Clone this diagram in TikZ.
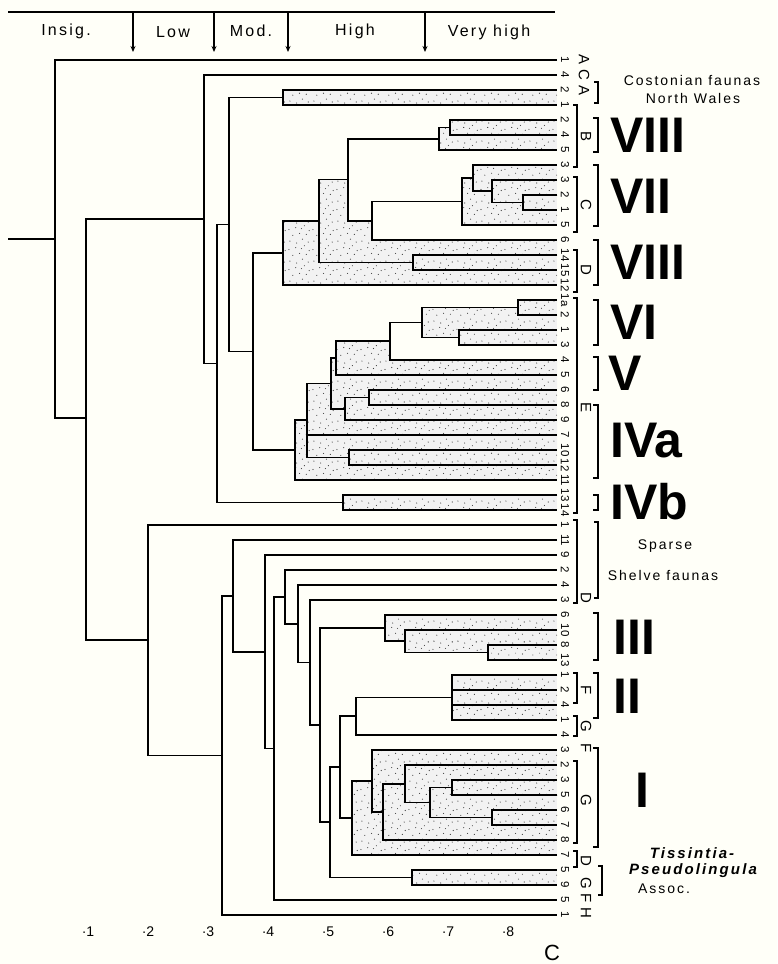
\documentclass[tikz,border=0pt]{standalone}
\usepackage{fontspec}
\setmainfont{Liberation Sans}
\newfontfamily\hdr[LetterSpace=14]{Liberation Sans}
\usetikzlibrary{arrows.meta,patterns.meta}
\definecolor{bg}{RGB}{255,255,248}
\pgfdeclarepattern{
  name=stip, type=uncolored,
  bottom left={\pgfpoint{0pt}{0pt}}, top right={\pgfpoint{24pt}{20pt}},
  tile size={\pgfpoint{24pt}{20pt}},
  code={
    \pgfpathcircle{\pgfpoint{2pt}{3pt}}{0.6pt}
    \pgfpathcircle{\pgfpoint{9pt}{1pt}}{0.6pt}
    \pgfpathcircle{\pgfpoint{15pt}{5pt}}{0.6pt}
    \pgfpathcircle{\pgfpoint{21pt}{2pt}}{0.6pt}
    \pgfpathcircle{\pgfpoint{5pt}{9pt}}{0.6pt}
    \pgfpathcircle{\pgfpoint{12pt}{11pt}}{0.6pt}
    \pgfpathcircle{\pgfpoint{19pt}{10pt}}{0.6pt}
    \pgfpathcircle{\pgfpoint{1pt}{15pt}}{0.6pt}
    \pgfpathcircle{\pgfpoint{8pt}{17pt}}{0.6pt}
    \pgfpathcircle{\pgfpoint{14pt}{16pt}}{0.6pt}
    \pgfpathcircle{\pgfpoint{22pt}{14pt}}{0.6pt}
    \pgfpathcircle{\pgfpoint{17pt}{19pt}}{0.6pt}
    \pgfusepath{fill}
  }
}
\tikzset{
  dl/.style={line width=1.6pt, line join=miter},
  shd/.style={fill=black!5, postaction={pattern=stip, pattern color=black!75}},
  num/.style={rotate=-90, inner sep=0pt, font=\fontsize{11.5}{12}\selectfont},
  grp/.style={rotate=-90, inner sep=0pt, font=\fontsize{15}{15}\selectfont},
  rom/.style={inner sep=0pt, anchor=west, font=\fontsize{50}{50}\selectfont\bfseries},
  sbr/.style={line width=1.2pt},
  tbr/.style={line width=2.8pt},
  htxt/.style={inner sep=0pt, font=\hdr\fontsize{16}{16}\selectfont},
  rtxt/.style={inner sep=0pt, font=\hdr\fontsize{14}{14}\selectfont},
  arr/.style={line width=1.1pt, -{Stealth[length=6pt,width=5pt]}},
}
\begin{document}
\begin{tikzpicture}[x=1pt,y=-1pt]
\useasboundingbox (0,0) rectangle (777,964);
\fill[bg] (0,0) rectangle (777,964);
% ---------- header
\draw[line width=1.3pt] (8,12) -- (555,12);
\foreach \ax in {133,214,288,425} \draw[arr] (\ax,12) -- (\ax,52);
\node[htxt] (h1) at (66,31) {Insig.};
\node[htxt] (h2) at (173,32) {Low};
\node[htxt] (h3) at (251,31) {Mod.};
\node[htxt] (h4) at (355,31) {High};
\node[htxt] (h5) at (489,32) {Very high};
% ---------- shading, upper
\fill[shd] (283,90) rectangle (557,105);
\fill[shd] (450,120) rectangle (557,135);
\fill[shd] (439,127.5) rectangle (557,150);
\fill[shd] (523,195) rectangle (557,210);
\fill[shd] (492,180) rectangle (557,202.5);
\fill[shd] (473,165) rectangle (557,191.25);
\fill[shd] (462,178.1) rectangle (557,225);
\fill[shd] (413,255) rectangle (557,270);
\fill[shd] (319,179.4)--(348,179.4)--(348,220.75)--(372,220.75)--(372,240)--(557,240)--(557,255)--(413,255)--(413,262.5)--(319,262.5)--cycle;
\fill[shd] (283,221)--(319,221)--(319,262.5)--(413,262.5)--(413,270)--(557,270)--(557,285)--(283,285)--cycle;
\fill[shd] (518,300) rectangle (557,315);
\fill[shd] (459,330) rectangle (557,345);
\fill[shd] (422,307.5) rectangle (557,337.5);
\fill[shd] (336,341)--(390,341)--(390,360)--(557,360)--(557,375)--(336,375)--cycle;
\fill[shd] (369,390) rectangle (557,405);
\fill[shd] (345,397.5) rectangle (557,420);
\fill[shd] (331,358)--(336,358)--(336,375)--(557,375)--(557,390)--(369,390)--(369,397.5)--(345,397.5)--(345,408.75)--(331,408.75)--cycle;
\fill[shd] (349,450) rectangle (557,465);
\fill[shd] (307,383)--(331,383)--(331,408.75)--(345,408.75)--(345,420)--(557,420)--(557,450)--(349,450)--(349,457.5)--(307,457.5)--cycle;
\fill[shd] (295,420)--(307,420)--(307,457.5)--(349,457.5)--(349,465)--(557,465)--(557,480)--(295,480)--cycle;
\fill[shd] (343,495) rectangle (557,510);
% ---------- shading, lower
\fill[shd] (488,645) rectangle (557,660);
\fill[shd] (405,630) rectangle (557,652.5);
\fill[shd] (385,615) rectangle (557,641.25);
\fill[shd] (452,675) rectangle (557,720);
\fill[shd] (492,810) rectangle (557,825);
\fill[shd] (452,780) rectangle (557,795);
\fill[shd] (430,787.5) rectangle (557,817.5);
\fill[shd] (405,765) rectangle (557,802.5);
\fill[shd] (383,783.75) rectangle (557,840);
\fill[shd] (372,750) rectangle (557,811.9);
\fill[shd] (352,781) rectangle (557,855);
\fill[shd] (412,870) rectangle (557,885);
% ---------- dendrogram upper
\draw[dl] (8,239) -- (55,239);
\draw[dl] (557,60) -- (55,60) -- (55,418) -- (86,418);
\draw[dl] (204,219) -- (86,219) -- (86,640.2) -- (148,640.2);
\draw[dl] (557,75) -- (204,75) -- (204,363.5) -- (217,363.5);
\draw[dl] (229,224.5) -- (217,224.5) -- (217,502.5) -- (343,502.5);
\draw[dl] (557,495) -- (343,495) -- (343,510) -- (557,510);
\draw[dl] (283,97.5) -- (229,97.5) -- (229,351.5) -- (253,351.5);
\draw[dl] (557,90) -- (283,90) -- (283,105) -- (557,105);
\draw[dl] (283,253) -- (253,253) -- (253,450) -- (295,450);
\draw[dl] (319,221) -- (283,221) -- (283,285) -- (557,285);
\draw[dl] (348,179.4) -- (319,179.4) -- (319,262.5) -- (413,262.5);
\draw[dl] (557,255) -- (413,255) -- (413,270) -- (557,270);
\draw[dl] (439,138.75) -- (348,138.75) -- (348,220.75) -- (372,220.75);
\draw[dl] (450,127.5) -- (439,127.5) -- (439,150) -- (557,150);
\draw[dl] (557,120) -- (450,120) -- (450,135) -- (557,135);
\draw[dl] (462,201.6) -- (372,201.6) -- (372,240) -- (557,240);
\draw[dl] (473,178.1) -- (462,178.1) -- (462,225) -- (557,225);
\draw[dl] (557,165) -- (473,165) -- (473,191.25) -- (492,191.25);
\draw[dl] (557,180) -- (492,180) -- (492,202.5) -- (523,202.5);
\draw[dl] (557,195) -- (523,195) -- (523,210) -- (557,210);
\draw[dl] (307,420) -- (295,420) -- (295,480) -- (557,480);
\draw[dl] (331,383.4) -- (307,383.4) -- (307,457.5) -- (349,457.5);
\draw[dl] (307,435) -- (557,435);
\draw[dl] (557,450) -- (349,450) -- (349,465) -- (557,465);
\draw[dl] (336,358) -- (331,358) -- (331,408.75) -- (345,408.75);
\draw[dl] (369,397.5) -- (345,397.5) -- (345,420) -- (557,420);
\draw[dl] (557,390) -- (369,390) -- (369,405) -- (557,405);
\draw[dl] (390,341.25) -- (336,341.25) -- (336,375) -- (557,375);
\draw[dl] (422,322.5) -- (390,322.5) -- (390,360) -- (557,360);
\draw[dl] (518,307.5) -- (422,307.5) -- (422,337.5) -- (459,337.5);
\draw[dl] (557,300) -- (518,300) -- (518,315) -- (557,315);
\draw[dl] (557,330) -- (459,330) -- (459,345) -- (557,345);
% ---------- dendrogram lower
\draw[dl] (557,525) -- (148,525) -- (148,755.4) -- (222,755.4);
\draw[dl] (233,595.9) -- (222,595.9) -- (222,915) -- (557,915);
\draw[dl] (557,540) -- (233,540) -- (233,651.7) -- (265,651.7);
\draw[dl] (557,555) -- (265,555) -- (265,748.5) -- (274,748.5);
\draw[dl] (285,596.9) -- (274,596.9) -- (274,900) -- (557,900);
\draw[dl] (557,570) -- (285,570) -- (285,623.8) -- (298,623.8);
\draw[dl] (557,585) -- (298,585) -- (298,662.6) -- (310,662.6);
\draw[dl] (557,600) -- (310,600) -- (310,725.2) -- (320,725.2);
\draw[dl] (385,628.1) -- (320,628.1) -- (320,822.25) -- (330,822.25);
\draw[dl] (557,615) -- (385,615) -- (385,641.25) -- (405,641.25);
\draw[dl] (557,630) -- (405,630) -- (405,652.5) -- (488,652.5);
\draw[dl] (557,645) -- (488,645) -- (488,660) -- (557,660);
\draw[dl] (340,767) -- (330,767) -- (330,877.5) -- (412,877.5);
\draw[dl] (557,870) -- (412,870) -- (412,885) -- (557,885);
\draw[dl] (356,716.25) -- (340,716.25) -- (340,818) -- (352,818);
\draw[dl] (452,697.5) -- (356,697.5) -- (356,735) -- (557,735);
\draw[dl] (557,675) -- (452,675) -- (452,720) -- (557,720);
\draw[dl] (452,690) -- (557,690);
\draw[dl] (452,705) -- (557,705);
\draw[dl] (372,781) -- (352,781) -- (352,855) -- (557,855);
\draw[dl] (557,750) -- (372,750) -- (372,811.9) -- (383,811.9);
\draw[dl] (405,783.75) -- (383,783.75) -- (383,840) -- (557,840);
\draw[dl] (557,765) -- (405,765) -- (405,802.5) -- (430,802.5);
\draw[dl] (452,787.5) -- (430,787.5) -- (430,817.5) -- (492,817.5);
\draw[dl] (557,780) -- (452,780) -- (452,795) -- (557,795);
\draw[dl] (557,810) -- (492,810) -- (492,825) -- (557,825);
% ---------- leaf labels
\foreach \t [count=\k from 0] in {1,4,2,1,2,4,5,3,3,2,1,5,6,14,15,12,1a,2,1,3,4,5,6,8,9,7,10,12,11,13,14,1,11,9,2,4,3,6,10,8,13,1,2,4,1,4,3,2,3,5,6,7,8,7,5,9,5,1}
  \node[num] (n\k) at (565,60+15*\k) {\t};
% group letters and small brackets
\node[grp] (gA1) at (584,60) {A};
\node[grp] (gC1) at (584,75) {C};
\node[grp] (gA2) at (584,91) {A};
\draw[sbr] (573,105) -- (577,105) -- (577,167) -- (573,167);
\node[grp] (gB) at (586,137) {B};
\draw[sbr] (573,177) -- (577,177) -- (577,232) -- (573,232);
\node[grp] (gC2) at (586,205) {C};
\draw[sbr] (573,250) -- (577,250) -- (577,292) -- (573,292);
\node[grp] (gD1) at (586,270) {D};
\draw[sbr] (573,298) -- (577,298) -- (577,513) -- (573,513);
\node[grp] (gE) at (586,407) {E};
\draw[sbr] (573,520) -- (577,520) -- (577,603) -- (573,603);
\node[grp] (gD2) at (586,598) {D};
\draw[sbr] (573,673) -- (577,673) -- (577,703) -- (573,703);
\node[grp] (gF1) at (586,690) {F};
\draw[sbr] (573,716) -- (577,716) -- (577,736) -- (573,736);
\node[grp] (gG1) at (586,726) {G};
\node[grp] (gF2) at (586,748) {F};
\draw[sbr] (573,761) -- (577,761) -- (577,843) -- (573,843);
\node[grp] (gG2) at (586,800) {G};
\draw[sbr] (573,851) -- (577,851) -- (577,867) -- (573,867);
\node[grp] (gD3) at (586,861) {D};
\node[grp] (gG3) at (586,883) {G};
\node[grp] (gF3) at (586,898) {F};
\node[grp] (gH) at (586,913) {H};
% ---------- right side labels
\draw[sbr] (594,82) -- (598,82) -- (598,103) -- (594,103);
\node[rtxt] (cost1) at (692,80) {Costonian faunas};
\node[rtxt] (cost2) at (693,98) {North Wales};
\draw[tbr] (593,118) -- (598,118) -- (598,152) -- (593,152);
\node[rom] (r8a) at (610,135) {VIII};
\draw[tbr] (593,165) -- (598,165) -- (598,226) -- (593,226);
\node[rom] (r7) at (610,196) {VII};
\draw[tbr] (593,240) -- (598,240) -- (598,285) -- (593,285);
\node[rom] (r8b) at (610,262) {VIII};
\draw[tbr] (593,300) -- (598,300) -- (598,345) -- (593,345);
\node[rom] (r6) at (610,322) {VI};
\draw[tbr] (593,357) -- (598,357) -- (598,390) -- (593,390);
\node[rom] (r5) at (608,373) {V};
\draw[tbr] (593,405) -- (598,405) -- (598,478) -- (593,478);
\node[rom] (r4a) at (610,441) {IVa};
\draw[tbr] (593,495) -- (598,495) -- (598,510) -- (593,510);
\node[rom] (r4b) at (610,502) {IVb};
\draw[sbr] (594,522) -- (598,522) -- (598,598) -- (594,598);
\node[rtxt] (sp1) at (665,546) {Sparse};
\node[rtxt] (sp2) at (663,575) {Shelve faunas};
\draw[tbr] (593,613) -- (598,613) -- (598,660) -- (593,660);
\node[rom] (r3) at (613,637) {III};
\draw[tbr] (593,673) -- (598,673) -- (598,718) -- (593,718);
\node[rom] (r2) at (613,696) {II};
\draw[tbr] (593,748) -- (598,748) -- (598,847) -- (593,847);
\node[rom, anchor=center] (r1) at (642,790) {I};
\draw[sbr] (598,866) -- (602,866) -- (602,895) -- (598,895);
\node[inner sep=0pt, font=\hdr\fontsize{15}{15}\selectfont\bfseries\itshape] (ts1) at (692,853) {Tissintia-};
\node[inner sep=0pt, font=\hdr\fontsize{15}{15}\selectfont\bfseries\itshape] (ts2) at (693,871) {Pseudolingula};
\node[rtxt] (ts3) at (664,889) {Assoc.};
% ---------- axis
\foreach \i in {1,...,8} \node[inner sep=0pt, font=\fontsize{14}{14}\selectfont] (ax\i) at (88+60*\i-60,932) {·\i};
\node[inner sep=0pt, font=\fontsize{22}{22}\selectfont] (cc) at (552,953) {C};
\end{tikzpicture}
\end{document}
